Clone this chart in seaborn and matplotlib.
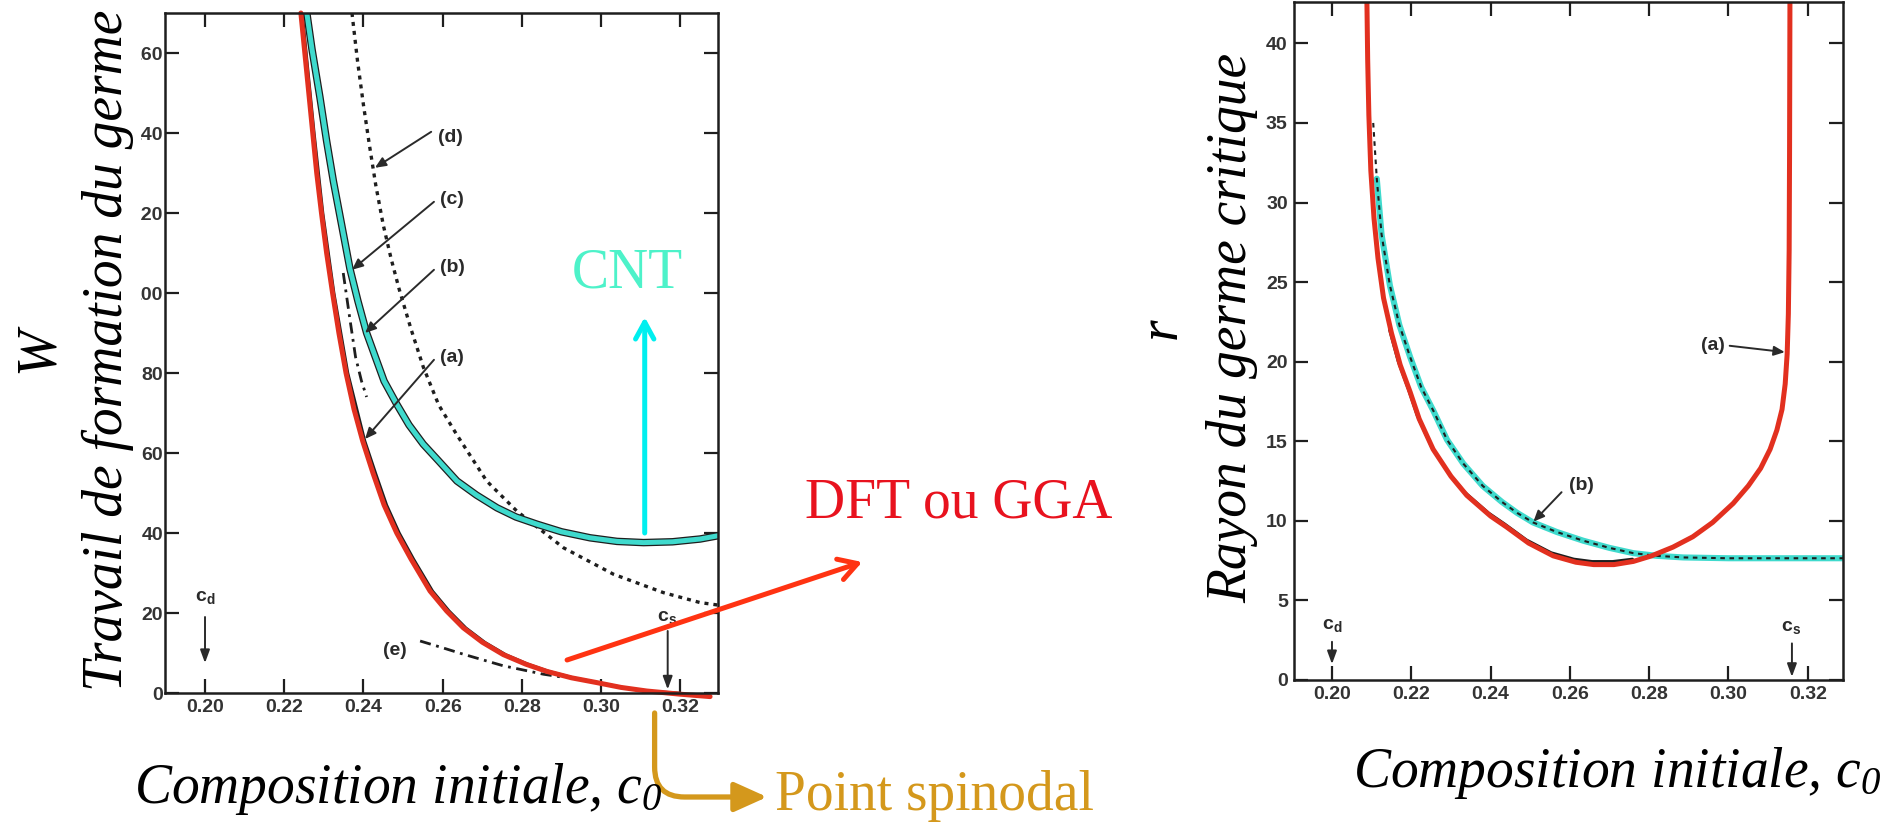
import matplotlib
matplotlib.use("Agg")
import matplotlib.pyplot as plt
from matplotlib.transforms import Bbox
import seaborn as sns

# ---------------- data ----------------
# Left panel: work of nucleation W versus initial composition c0
w_dft_c = [0.2242, 0.2252, 0.2262, 0.2272, 0.2282, 0.2294, 0.2307, 0.2322, 0.2338,
           0.2356, 0.2376, 0.2398, 0.2424, 0.2452, 0.2484, 0.2520, 0.2568, 0.2610,
           0.2652, 0.2700, 0.2753, 0.2810, 0.2863, 0.2925, 0.2989, 0.3050, 0.3115,
           0.3200, 0.3275]
w_dft = [170, 160, 150, 140, 130, 120, 110, 100, 90, 80, 71, 63, 55, 47, 40, 33.5,
         25.5, 20.5, 16.3, 12.7, 9.6, 7.2, 5.4, 3.8, 2.6, 1.4, 0.5, -0.3, -0.9]

w_a_c = [0.2246, 0.2276, 0.2298, 0.2326, 0.2361, 0.2404, 0.2431, 0.2459, 0.2491,
         0.2527, 0.2575, 0.2617, 0.2659, 0.2707, 0.2760, 0.2817, 0.2870, 0.2932,
         0.2996, 0.3057, 0.3120, 0.3200]
w_a = [170, 140, 120, 100, 80, 63, 55, 47, 40, 33.5, 25.5, 20.5, 16.3, 12.7, 9.6,
       7.2, 5.4, 3.8, 2.6, 1.4, 0.5, 0.0]

w_cnt_c = [0.2257, 0.2270, 0.2290, 0.2307, 0.2324, 0.2345, 0.2366, 0.2386, 0.2408,
           0.2430, 0.2452, 0.2484, 0.2515, 0.2551, 0.2590, 0.2636, 0.2685, 0.2737,
           0.2785, 0.2838, 0.2900, 0.2972, 0.3040, 0.3107, 0.3180, 0.3250, 0.3294]
w_cnt = [170, 161, 149, 138, 128, 117, 106, 98, 90, 84, 78, 72.2, 67, 62.2, 58,
         53, 49.5, 46.3, 44, 42.2, 40.3, 38.8, 37.9, 37.6, 37.8, 38.5, 39.3]

w_d_c = [0.2371, 0.2385, 0.2400, 0.2415, 0.2431, 0.2450, 0.2470, 0.2490, 0.2520,
         0.2551, 0.2590, 0.2636, 0.2711, 0.2787, 0.2905, 0.3031, 0.3157, 0.3250,
         0.3294]
w_d = [170, 158, 147, 137, 127, 117, 108.5, 101, 91, 81.5, 72, 64.5, 53, 45.5,
       36.3, 29.7, 25.1, 22.6, 22.0]

w_b_c = [0.2349, 0.2365, 0.2380, 0.2395, 0.2408]
w_b = [105, 94, 84, 78, 74]

w_e_c = [0.2543, 0.2600, 0.2652, 0.2753, 0.2854, 0.2900]
w_e = [13, 11.3, 9.7, 6.8, 4.7, 4.0]

# Right panel: critical nucleus radius r versus initial composition c0
r_a_c = [0.2088, 0.2090, 0.2093, 0.2098, 0.2106, 0.2116, 0.2130, 0.2150, 0.2172,
         0.2197, 0.2220, 0.2255, 0.2300, 0.2340, 0.2400, 0.2441, 0.2496, 0.2558,
         0.2615, 0.2660, 0.2711, 0.2760, 0.2806, 0.2860, 0.2910, 0.2960, 0.3012,
         0.3050, 0.3081, 0.3105, 0.3122, 0.3135, 0.3143, 0.3148, 0.3151, 0.3153,
         0.3154, 0.3155]
r_a = [42.8, 39.0, 35.5, 32.0, 29.0, 26.5, 24.0, 21.8, 19.8, 18.1, 16.4, 14.5,
       12.8, 11.6, 10.3, 9.6, 8.6, 7.8, 7.4, 7.25, 7.25, 7.45, 7.8, 8.35, 9.0, 9.9,
       11.1, 12.2, 13.3, 14.5, 15.7, 17.0, 18.6, 20.5, 23.0, 27.0, 33.0, 42.8]

r_a_black_c = [0.2145, 0.2167, 0.2192, 0.2215, 0.2250, 0.2295, 0.2335, 0.2395,
               0.2436, 0.2491, 0.2553, 0.2610, 0.2656, 0.2708, 0.2758]
r_a_black = [22.0, 20.0, 18.3, 16.6, 14.7, 13.0, 11.8, 10.5, 9.8, 8.8, 8.0, 7.6,
             7.45, 7.45, 7.6]

r_b_c = [0.2104, 0.2113, 0.2125, 0.2146, 0.2170, 0.2197, 0.2225, 0.2256, 0.2290,
         0.2331, 0.2380, 0.2428, 0.2467, 0.2507, 0.2567, 0.2634, 0.2700, 0.2760,
         0.2820, 0.2886, 0.3000, 0.3150, 0.3289]
r_b = [35.0, 31.5, 28.0, 24.8, 22.3, 20.3, 18.4, 16.9, 15.1, 13.6, 12.2, 11.2,
       10.5, 9.9, 9.3, 8.75, 8.3, 7.97, 7.8, 7.7, 7.65, 7.65, 7.65]

x_ticks = [0.20, 0.22, 0.24, 0.26, 0.28, 0.30, 0.32]
x_tick_labels = ["0.20", "0.22", "0.24", "0.26", "0.28", "0.30", "0.32"]
w_ticks = [0, 20, 40, 60, 80, 100, 120, 140, 160]
r_ticks = [0, 5, 10, 15, 20, 25, 30, 35, 40]

c_d = 0.200
c_s = 0.3168

# ---------------- style ----------------
sns.set_theme(style="white")
plt.rcParams["font.family"] = ["Liberation Serif", "DejaVu Sans"]
plt.rcParams["mathtext.fontset"] = "custom"
plt.rcParams["mathtext.it"] = "Liberation Serif:italic"
plt.rcParams["mathtext.rm"] = "Liberation Serif:italic"
plt.rcParams["mathtext.sf"] = "Liberation Sans:bold"

W_PX, H_PX = 1892, 831
fig = plt.figure(figsize=(W_PX / 100, H_PX / 100), dpi=100)
fig.patch.set_facecolor("white")


def fx(px):
    return px / W_PX


def fy(py):
    return 1 - py / H_PX


ax1 = fig.add_axes([fx(165), fy(693), (718 - 165) / W_PX, (693 - 13) / H_PX])
ax2 = fig.add_axes([fx(1294), fy(680), (1843 - 1294) / W_PX, (680 - 2) / H_PX])

INK = "#1e1e1e"
RED = "#E2301F"
CYAN_CURVE = "#3FDACD"
CYAN_ARROW = "#00EFEF"
CNT_TEXT = "#4DF2C9"
DFT_TEXT = "#E8121E"
GOLD = "#D4981C"

line_kw = dict(estimator=None, sort=False, legend=False)

# ---- left panel curves ----
sns.lineplot(x=w_d_c, y=w_d, ax=ax1, color=INK, lw=2.4,
             linestyle=(0, (1.2, 1.5)), **line_kw)
sns.lineplot(x=w_b_c, y=w_b, ax=ax1, color=INK, lw=2.0,
             linestyle=(0, (4, 2, 1, 2)), **line_kw)
sns.lineplot(x=w_e_c, y=w_e, ax=ax1, color=INK, lw=2.0,
             linestyle=(0, (4, 2, 1, 2)), **line_kw)
sns.lineplot(x=w_cnt_c, y=w_cnt, ax=ax1, color=INK, lw=5.4, **line_kw)
sns.lineplot(x=w_cnt_c, y=w_cnt, ax=ax1, color=CYAN_CURVE, lw=3.6, **line_kw)
sns.lineplot(x=w_a_c, y=w_a, ax=ax1, color=INK, lw=1.8, **line_kw)
red_left = sns.lineplot(x=w_dft_c, y=w_dft, ax=ax1, color=RED, lw=3.6, **line_kw)
red_left.lines[-1].set_clip_on(False)

# ---- right panel curves ----
sns.lineplot(x=r_b_c[1:], y=r_b[1:], ax=ax2, color=CYAN_CURVE, lw=4.4, **line_kw)
sns.lineplot(x=r_b_c, y=r_b, ax=ax2, color=INK, lw=1.5,
             linestyle=(0, (2.2, 2.2)), **line_kw)
sns.lineplot(x=r_a_black_c, y=r_a_black, ax=ax2, color=INK, lw=2.0, **line_kw)
sns.lineplot(x=r_a_c, y=r_a, ax=ax2, color=RED, lw=3.6, **line_kw)

# ---- axes, ticks ----
ax1.set_xlim(0.1899, 0.3295)
ax1.set_ylim(0, 170)
ax2.set_xlim(0.19042, 0.32888)
ax2.set_ylim(0, 42.6)

for ax in (ax1, ax2):
    ax.set_xlabel("")
    ax.set_ylabel("")
    ax.set_xticks(x_ticks)
    ax.set_xticklabels(x_tick_labels)
    for s in ax.spines.values():
        s.set_visible(True)
        s.set_linewidth(1.8)
        s.set_color(INK)
    ax.tick_params(direction="in", length=10, width=1.6, color=INK,
                   top=True, right=True, bottom=True, left=True,
                   labelsize=14, labelcolor="#333333")
    ax.tick_params(axis="x", pad=4)
    ax.set_facecolor("white")

ax1.set_yticks(w_ticks)
ax1.set_yticklabels([str(v) for v in w_ticks])
ax1.tick_params(axis="y", pad=1.5)
ax2.set_yticks(r_ticks)
ax2.set_yticklabels([str(v) for v in r_ticks])
ax2.tick_params(axis="y", pad=4.5)

for ax in (ax1, ax2):
    for lbl in ax.get_xticklabels() + ax.get_yticklabels():
        lbl.set_fontfamily("Liberation Sans")
        lbl.set_fontweight("bold")

# the left panel's W labels are cut along a vertical edge at x = 141 px
cut = Bbox.from_extents(141, 0, W_PX, H_PX)
for lbl in ax1.get_yticklabels():
    lbl.set_clip_on(True)
    lbl.set_clip_box(cut)

# ---- small curve labels ----
small = dict(fontfamily="Liberation Sans", fontweight="bold", fontsize=14,
             color="#2a2a2a")
ptr = dict(arrowstyle="-|>,head_length=0.5,head_width=0.22", color="#2a2a2a",
           lw=1.4, shrinkA=0, shrinkB=0, mutation_scale=13)
down = dict(arrowstyle="-|>,head_length=0.6,head_width=0.22", color="#2a2a2a",
            lw=1.4, shrinkA=0, shrinkB=0, mutation_scale=13)

for name, lx, ly, sx, sy, tx, ty in [
    ("(d)", 0.2588, 139, 0.2571, 140.3, 0.2429, 131.3),
    ("(c)", 0.2593, 123.3, 0.2578, 122.8, 0.2371, 105.8),
    ("(b)", 0.2593, 106.3, 0.2578, 105.8, 0.2404, 90.0),
    ("(a)", 0.2593, 84.0, 0.2578, 83.3, 0.2404, 63.5),
]:
    ax1.text(lx, ly, name, ha="left", va="center", **small)
    ax1.annotate("", xy=(tx, ty), xytext=(sx, sy), arrowprops=ptr)
ax1.text(0.2480, 10.7, "(e)", ha="center", va="center", **small)

ax1.text(c_d, 24, r"$\mathsf{c_d}$", ha="center", va="center", **small)
ax1.annotate("", xy=(c_d, 7.5), xytext=(c_d, 19), arrowprops=down)
ax1.text(c_s - 0.0002, 18.8, r"$\mathsf{c_s}$", ha="center", va="center", **small)
ax1.annotate("", xy=(c_s, 0.9), xytext=(c_s, 15.5), arrowprops=down)

ax2.text(0.2597, 12.2, "(b)", ha="left", va="center", **small)
ax2.annotate("", xy=(0.2508, 9.95), xytext=(0.2579, 11.8), arrowprops=ptr)
ax2.text(0.2990, 21.0, "(a)", ha="right", va="center", **small)
ax2.annotate("", xy=(0.3142, 20.6), xytext=(0.3003, 21.0), arrowprops=ptr)
ax2.text(0.2000, 3.4, r"$\mathsf{c_d}$", ha="center", va="center", **small)
ax2.annotate("", xy=(0.2000, 1.0), xytext=(0.2000, 2.4), arrowprops=down)
ax2.text(0.3158, 3.3, r"$\mathsf{c_s}$", ha="center", va="center", **small)
ax2.annotate("", xy=(0.3160, 0.2), xytext=(0.3160, 2.3), arrowprops=down)

# ---- axis titles ----
big = dict(fontsize=40, style="italic", color="black")
vert = dict(rotation=90, rotation_mode="anchor", ha="center", va="baseline")
fig.text(fx(53), fy(350), "W", **vert, **big)
fig.text(fx(122), fy(350), "Travail de formation du germe", **vert, **big)
fig.text(fx(1176), fy(328), "r", **vert, **big)
fig.text(fx(1246), fy(328), "Rayon du germe critique", **vert, **big)
fig.text(fx(134), fy(803), "Composition initiale, $c_0$", ha="left",
         va="baseline", **big)
fig.text(fx(1353), fy(787), "Composition initiale, $c_0$", ha="left",
         va="baseline", **big)

# ---- model annotations ----
ax1.text(0.3066, 101.3, "CNT", ha="center", va="baseline", fontsize=40,
         color=CNT_TEXT)
ax1.annotate("", xy=(0.3110, 94), xytext=(0.3110, 40),
             arrowprops=dict(arrowstyle="->,head_length=0.55,head_width=0.3",
                             color=CYAN_ARROW, lw=3.6, shrinkA=0, shrinkB=0,
                             mutation_scale=22))

fig.text(fx(805), fy(518), "DFT ou GGA", ha="left", va="baseline", fontsize=40,
         color=DFT_TEXT)
ax1.annotate("", xy=(0.3659, 32.75), xytext=(0.2914, 8.25),
             annotation_clip=False,
             arrowprops=dict(arrowstyle="->,head_length=0.6,head_width=0.35",
                             color="#FF3312", lw=3.6, shrinkA=0, shrinkB=0,
                             mutation_scale=22))

fig.text(fx(775), fy(810), "Point spinodal", ha="left", va="baseline",
         fontsize=40, color=GOLD)
ax1.annotate("", xy=(0.3419, -26), xytext=(0.3135, -5),
             annotation_clip=False,
             arrowprops=dict(arrowstyle="-|>,head_length=1.0,head_width=0.45",
                             connectionstyle="angle,angleA=90,angleB=0,rad=30",
                             color=GOLD, lw=3.8, shrinkA=0, shrinkB=0,
                             mutation_scale=20))

fig.savefig("out.png", dpi=100, facecolor="white")
